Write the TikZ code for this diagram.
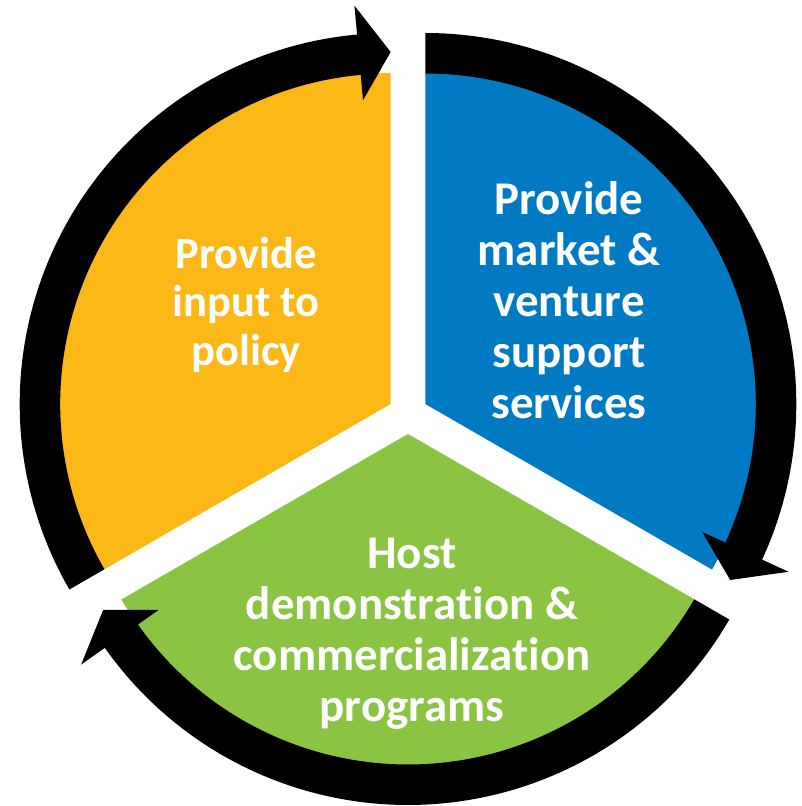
\documentclass[tikz,border=0pt]{standalone}
\usepackage{fontspec}
\setmainfont{Carlito}[Ligatures=NoCommon]

\definecolor{policyyellow}{HTML}{FCB816}
\definecolor{marketblue}{HTML}{007BC3}
\definecolor{hostgreen}{HTML}{8BC443}

\begin{document}
\begin{tikzpicture}[
		x=0.75pt, y=0.75pt,
		wedge/.style = {draw=none},
		ringarrow/.style = {fill=black, draw=none},
		every node/.style = {
			text=white, align=center, inner sep=0pt,
			font=\bfseries\fontsize{35.2}{38.3}\selectfont}]

	\useasboundingbox (-408,-392) rectangle (393,414);

	% yellow part, pushed out along 150 degrees
	\begin{scope}[shift={(150:20)}]
		\fill[wedge, policyyellow] (0,0) -- (90:331) arc[start angle=90, end angle=210, radius=331] -- cycle;
		\fill[ringarrow] (210:330.5) arc[start angle=210, end angle=95.2, radius=330.5]
			-- (95.2:305) -- (90:352) -- (95.2:400) -- (95.2:371)
			arc[start angle=95.2, end angle=210, radius=371] -- cycle;
	\end{scope}

	% blue part
	\begin{scope}[shift={(30:20)}]
		\fill[wedge, marketblue] (0,0) -- (-30:331) arc[start angle=-30, end angle=90, radius=331] -- cycle;
		\fill[ringarrow] (90:330.5) arc[start angle=90, end angle=-24.8, radius=330.5]
			-- (-24.8:305) -- (-30:352) -- (-24.8:400) -- (-24.8:371)
			arc[start angle=-24.8, end angle=90, radius=371] -- cycle;
	\end{scope}

	% green part
	\begin{scope}[shift={(270:20)}]
		\fill[wedge, hostgreen] (0,0) -- (210:331) arc[start angle=210, end angle=330, radius=331] -- cycle;
		\fill[ringarrow] (330:330.5) arc[start angle=330, end angle=215.2, radius=330.5]
			-- (215.2:305) -- (210:352) -- (215.2:400) -- (215.2:371)
			arc[start angle=215.2, end angle=330, radius=371] -- cycle;
	\end{scope}

	\node (policy) at (-162,109.5)
		[font=\bfseries\fontsize{33.4}{36.4}\selectfont]
		{Provide\\input to\\policy};
	\node (market) at (161,113.5) {Provide\\market \&\\venture\\support\\services};
	\node (host) at (4,-220) {Host\\demonstration \&\\commercialization\\programs};
\end{tikzpicture}
\end{document}
